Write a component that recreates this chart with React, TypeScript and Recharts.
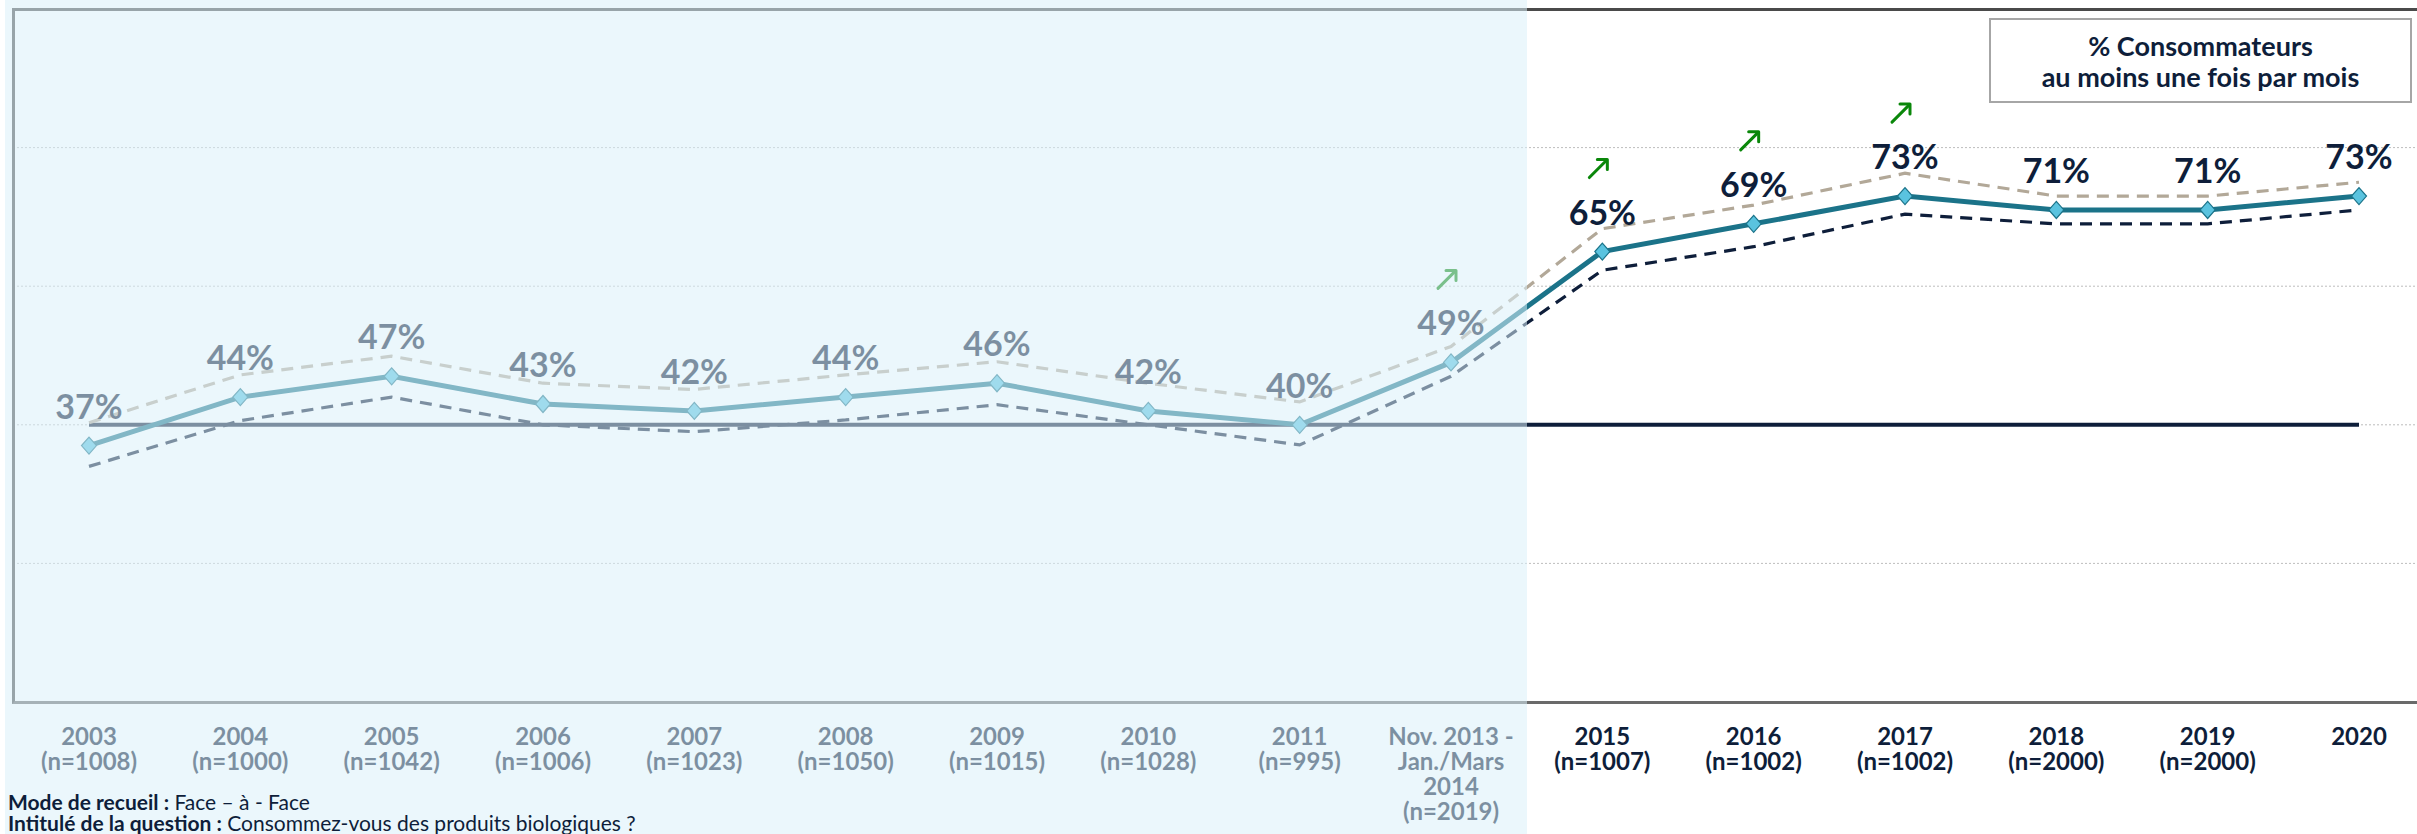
import React from 'react';
import { LineChart, Line, XAxis, YAxis, CartesianGrid, LabelList } from 'recharts';

// survey waves (x axis) and sample sizes
const periods = [
  '2003', '2004', '2005', '2006', '2007', '2008', '2009', '2010', '2011',
  'Nov. 2013 -\nJan./Mars\n2014',
  '2015', '2016', '2017', '2018', '2019', '2020',
];
const sampleSizes = [
  '(n=1008)', '(n=1000)', '(n=1042)', '(n=1006)', '(n=1023)', '(n=1050)', '(n=1015)', '(n=1028)', '(n=995)',
  '(n=2019)',
  '(n=1007)', '(n=1002)', '(n=1002)', '(n=2000)', '(n=2000)', '',
];

// % consommateurs au moins une fois par mois
const consumers = [37, 44, 47, 43, 42, 44, 46, 42, 40, 49, 65, 69, 73, 71, 71, 73];
// upper / lower bounds (dashed)
const upperBound = [40.3, 47.2, 49.9, 46.0, 45.1, 47.2, 49.1, 46.0, 43.3, 51.3, 68.3, 71.7, 76.3, 73.0, 73.0, 75.0];
const lowerBound = [34.0, 40.6, 44.0, 40.0, 39.0, 40.7, 42.9, 40.0, 37.1, 47.0, 62.3, 65.7, 70.4, 69.0, 69.0, 71.0];
// reference level line
const benchmark = [40, 40, 40, 40, 40, 40, 40, 40, 40, 40, 40, 40, 40, 40, 40, 40];
// significant rise vs previous wave
const significant = [false, false, false, false, false, false, false, false, false, true, true, true, true, false, false, false];

const yTicks = [0, 20, 40, 60, 80, 100];

const data = periods.map((period, i) => ({
  period,
  n: sampleSizes[i],
  consumers: consumers[i],
  upper: upperBound[i],
  lower: lowerBound[i],
  benchmark: benchmark[i],
}));

const navy = '#0e1e3a';
const teal = '#1b7389';
const markerFill = '#5ac3df';
const taupe = '#b2a898';
const green = '#0a870a';
const font = 'Lato, "Noto Sans", sans-serif';

const PeriodTick = (props: any) => {
  const { x, y, payload } = props;
  const lines: string[] = String(payload.value).split('\n');
  const n = data.find((d) => d.period === payload.value)?.n;
  if (n) lines.push(n);
  return (
    <g>
      {lines.map((line, i) => (
        <text
          key={i}
          x={x}
          y={y + 33 + i * 25}
          textAnchor="middle"
          dominantBaseline="central"
          fill={navy}
          fontSize={24}
          fontWeight={700}
          fontFamily={font}
        >
          {line}
        </text>
      ))}
    </g>
  );
};

const renderDiamond = (props: any) => {
  const { cx, cy, index } = props;
  if (cx == null || cy == null) return null;
  return (
    <polygon
      key={`dot-${index}`}
      points={`${cx},${cy - 8.5} ${cx + 7.5},${cy} ${cx},${cy + 8.5} ${cx - 7.5},${cy}`}
      fill={markerFill}
      stroke={teal}
      strokeWidth={1.2}
    />
  );
};

const renderArrow = (props: any) => {
  const { x, y, index } = props;
  if (!significant[index]) return null;
  const cx = x - 4;
  const cy = y - 83;
  return (
    <g key={`arrow-${index}`} stroke={green} strokeWidth={3} fill="none" strokeLinecap="round" strokeLinejoin="round">
      <line x1={cx - 9} y1={cy + 9} x2={cx + 8} y2={cy - 8} />
      <polyline points={`${cx - 1},${cy - 9} ${cx + 9},${cy - 9} ${cx + 9},${cy + 1}`} />
    </g>
  );
};

export default function App() {
  return (
    <div
      style={{
        position: 'absolute',
        left: 0,
        top: 0,
        width: 2417,
        height: 834,
        overflow: 'hidden',
        background: '#fff',
        fontFamily: font,
      }}
    >
      <LineChart width={2417} height={834} data={data} margin={{ top: 9, right: 0, left: 13, bottom: 0 }}>
        <CartesianGrid vertical={false} stroke="#bdbdbd" strokeDasharray="2 2" />
        <XAxis
          dataKey="period"
          height={132}
          axisLine={false}
          tickLine={false}
          tickSize={0}
          tickMargin={0}
          interval={0}
          padding={{ left: 76, right: 58 }}
          tick={<PeriodTick />}
        />
        <YAxis hide domain={[0, 100]} ticks={yTicks} />
        <Line dataKey="benchmark" stroke={navy} strokeWidth={4} dot={false} isAnimationActive={false} />
        <Line dataKey="upper" stroke={taupe} strokeWidth={3.2} strokeDasharray="12 8" dot={false} isAnimationActive={false} />
        <Line dataKey="lower" stroke={navy} strokeWidth={3.2} strokeDasharray="12 8" dot={false} isAnimationActive={false} />
        <Line dataKey="consumers" stroke={teal} strokeWidth={5} dot={renderDiamond} activeDot={false} isAnimationActive={false}>
          <LabelList
            dataKey="consumers"
            position="top"
            offset={27}
            formatter={(v: any) => `${v}%`}
            fill={navy}
            fontSize={34}
            fontWeight={700}
            fontFamily={font}
          />
          <LabelList dataKey="consumers" content={renderArrow} />
        </Line>
      </LineChart>

      {/* plot frame */}
      <div
        style={{
          position: 'absolute',
          left: 12,
          top: 8,
          width: 2420,
          height: 696,
          boxSizing: 'border-box',
          borderTop: '3px solid #4a4a4a',
          borderLeft: '3px solid #4a4a4a',
          borderBottom: '3px solid #6a6a6a',
          pointerEvents: 'none',
        }}
      />

      {/* faded earlier-period panel */}
      <div
        style={{
          position: 'absolute',
          left: 5,
          top: 0,
          width: 1522,
          height: 834,
          background: 'rgba(218,240,250,0.54)',
          pointerEvents: 'none',
        }}
      />

      {/* legend box */}
      <div
        style={{
          position: 'absolute',
          left: 1989,
          top: 18,
          width: 423,
          height: 85,
          boxSizing: 'border-box',
          border: '2px solid #a6a6a6',
          background: '#fff',
          color: navy,
          fontSize: 27,
          fontWeight: 700,
          lineHeight: '31px',
          textAlign: 'center',
          display: 'flex',
          flexDirection: 'column',
          justifyContent: 'center',
        }}
      >
        <div>% Consommateurs</div>
        <div>au moins une fois par mois</div>
      </div>

      {/* footer notes */}
      <div
        style={{
          position: 'absolute',
          left: 8,
          top: 791,
          fontSize: 21,
          lineHeight: '21px',
          color: navy,
          whiteSpace: 'nowrap',
        }}
      >
        <div>
          <b>Mode de recueil :</b> Face – à - Face
        </div>
        <div>
          <b>Intitulé de la question :</b> Consommez-vous des produits biologiques ?
        </div>
      </div>
    </div>
  );
}
